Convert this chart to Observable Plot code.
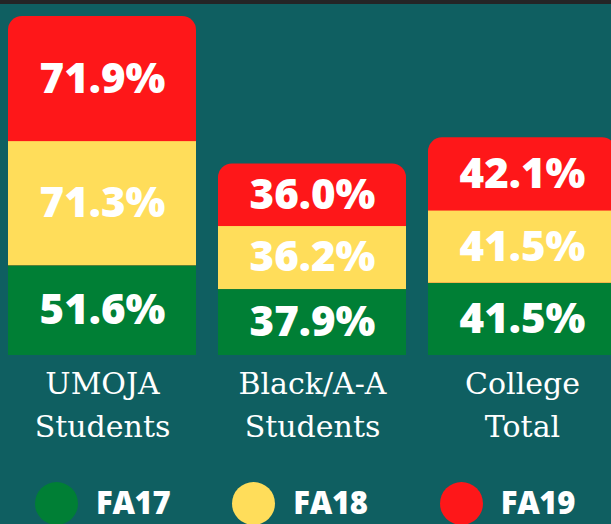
<!DOCTYPE html>
<html>
<head>
<meta charset="utf-8">
<script src="https://cdn.jsdelivr.net/npm/d3@7"></script>
<script src="https://cdn.jsdelivr.net/npm/@observablehq/plot@0.6"></script>
<style>
  html, body { margin: 0; padding: 0; }
  body { width: 611px; height: 524px; overflow: hidden; background: #0f5f61; position: relative; font-family: "Open Sans", sans-serif; }
  #strip { position: absolute; left: 0; top: 0; width: 611px; height: 4px; background: #242526; }
  #chart svg { display: block; background: transparent; overflow: hidden; max-width: none; }
  #legend { position: absolute; top: 482px; left: 35px; display: flex; gap: 62px; align-items: center; }
  #legend .item:nth-child(3) { margin-left: 10px; }
  .item { display: flex; align-items: center; gap: 18px; }
  .sw { width: 43px; height: 43px; border-radius: 50%; }
  .lab { color: #fff; font-family: "Open Sans", sans-serif; font-weight: 800; font-size: 31px; line-height: 31px; letter-spacing: -0.3px; position: relative; top: -1px; }
</style>
</head>
<body>
<div id="chart"></div>
<div id="strip"></div>
<div id="legend"></div>
<script>
const categories = ["UMOJA\nStudents", "Black/A-A\nStudents", "College\nTotal"];
const series = ["FA17", "FA18", "FA19"];
const colors = ["#007f35", "#ffdd5a", "#fe1719"];
const FA17 = [51.6, 37.9, 41.5];
const FA18 = [71.3, 36.2, 41.5];
const FA19 = [71.9, 36.0, 42.1];

const values = {FA17, FA18, FA19};
const data = [];
series.forEach(s => categories.forEach((c, i) => data.push({cat: c, series: s, value: values[s][i]})));
const totals = categories.map((c, i) => ({cat: c, total: FA17[i] + FA18[i] + FA19[i]}));
const maxTotal = d3.max(totals, d => d.total);

const plot = Plot.plot({
  width: 611,
  height: 475,
  marginTop: 16,
  marginBottom: 120,
  marginLeft: 0,
  marginRight: 0,
  style: {background: "transparent", overflow: "hidden"},
  x: {domain: categories, range: [0, 623], paddingInner: 0.107, paddingOuter: 0.0333, axis: null},
  y: {domain: [0, maxTotal], axis: null},
  color: {domain: series, range: colors},
  marks: [
    Plot.barY(totals, {x: "cat", y: "total", fill: colors[2], rx: 14}),
    Plot.barY(data.filter(d => d.series !== "FA19"), Plot.stackY({x: "cat", y: "value", fill: "series"})),
    Plot.text(data, Plot.stackY({
      x: "cat", y: "value", text: d => d.value.toFixed(1) + "%",
      fill: "white", fontSize: 42, fontWeight: 800, fontFamily: "Open Sans"
    })),
    Plot.text(totals, {
      x: "cat", y: () => 0, text: "cat", fill: "white",
      fontSize: 30, fontFamily: "DejaVu Serif", lineAnchor: "top", lineHeight: 1.43, dy: 8
    })
  ]
});
document.getElementById("chart").appendChild(plot);

const legend = document.getElementById("legend");
series.forEach((s, i) => {
  const item = document.createElement("div");
  item.className = "item";
  item.innerHTML = `<div class="sw" style="background:${colors[i]}"></div><div class="lab">${s}</div>`;
  legend.appendChild(item);
});
</script>
</body>
</html>
